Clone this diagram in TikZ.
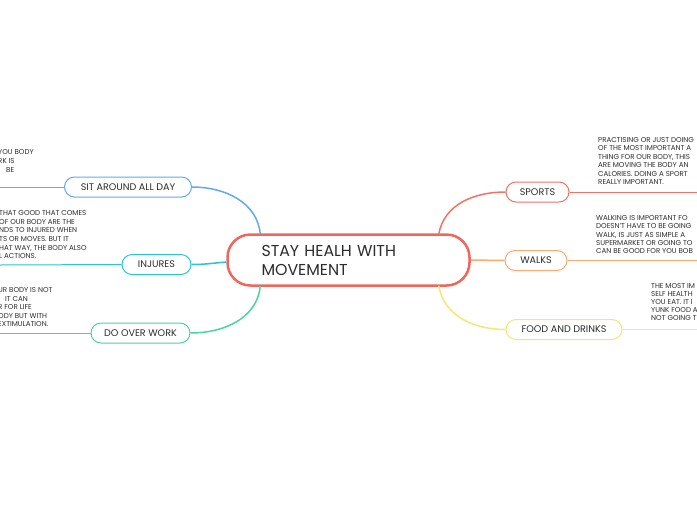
\documentclass[tikz,border=0pt]{standalone}
\usepackage{fontspec}
\setmainfont{Poppins}
\definecolor{txt}{RGB}{45,45,45}
\definecolor{cred}{RGB}{242,101,92}
\definecolor{sitc}{RGB}{98,170,240}
\definecolor{injc}{RGB}{40,198,210}
\definecolor{doc}{RGB}{72,214,160}
\definecolor{spoc}{RGB}{246,112,102}
\definecolor{walc}{RGB}{255,168,112}
\definecolor{fooc}{RGB}{248,230,112}
\begin{document}
\begin{tikzpicture}[x=1pt,y=-1pt,
  topic/.style={draw, line width=1pt, fill=white, rounded corners=10pt, minimum height=20pt, inner sep=0pt, font=\fontsize{9.6}{11}\selectfont, text=txt},
  note/.style={anchor=north west, inner sep=0pt, align=left, text=txt},
  conn/.style={line width=1.5pt},
  uline/.style={line width=1pt}]
\useasboundingbox (0,0) rectangle (697,520);
\clip (0,0) rectangle (697,520);
\fill[white] (0,0) rectangle (697,520);

% notes
\node[note, font=\fontsize{7.1}{9}\selectfont] (nsit) at (-2,149.2) {YOU BODY\\RK IS\\\hspace{8pt}BE};
\node[note, font=\fontsize{7.1}{8.7}\selectfont] (ninj) at (-1,210.2) {THAT GOOD THAT COMES\\OF OUR BODY ARE THE\\NDS TO INJURED WHEN\\TS OR MOVES. BUT IT\\HAT WAY, THE BODY ALSO\\L ACTIONS.};
\node[note, font=\fontsize{7.1}{8.6}\selectfont] (ndo) at (-2,287.2) {UR BODY IS NOT\\\hspace{7pt}IT CAN\\R FOR LIFE\\ODY BUT WITH\\EXTIMULATION.};
\node[note, font=\fontsize{7.1}{8.4}\selectfont] (nspo) at (598,137.2) {PRACTISING OR JUST DOING\\OF THE MOST IMPORTANT A\\THING FOR OUR BODY, THIS\\ARE MOVING THE BODY AN\\CALORIES. DOING A SPORT\\REALLY IMPORTANT.};
\node[note, font=\fontsize{7.1}{8.3}\selectfont] (nwal) at (596,215.2) {WALKING IS IMPORTANT FO\\DOESN'T HAVE TO BE GOING\\WALK, IS JUST AS SIMPLE A\\SUPERMARKET OR GOING TO\\CAN BE GOOD FOR YOU BOB};
\node[note, font=\fontsize{7.1}{7.9}\selectfont] (nfoo) at (651,283.2) {THE MOST IM\\SELF HEALTH\\YOU EAT. IT I\\YUNK FOOD A\\NOT GOING T};

% central
\node[draw=cred, line width=2.5pt, fill=white, rounded corners=23pt, minimum width=242pt, minimum height=51pt, inner xsep=34pt, text width=174pt, align=left, font=\fontsize{15.8}{19}\selectfont, text=txt] (c) at (348.5,260) {STAY HEALH WITH\\MOVEMENT};

% topics
\node[topic, draw=sitc, minimum width=127pt] (sit) at (128,187) {SIT AROUND ALL DAY};
\node[topic, draw=injc, minimum width=69pt] (inj) at (156.5,264.5) {INJURES};
\node[topic, draw=doc, minimum width=99pt] (do) at (140.5,333) {DO OVER WORK};
\node[topic, draw=spoc, minimum width=63pt] (spo) at (537.5,192) {SPORTS};
\node[topic, draw=walc, minimum width=62pt] (wal) at (536,260.5) {WALKS};
\node[topic, draw=fooc, minimum width=116pt] (foo) at (564,329.5) {FOOD AND DRINKS};

% free ends of underlines
\coordinate (esit) at (0,187);
\coordinate (einj) at (0,265);
\coordinate (edo) at (0,333);
\coordinate (espo) at (697,192);
\coordinate (ewal) at (697,260.5);
\coordinate (efoo) at (697,329.5);

% connectors
\draw[conn, sitc] ([xshift=34pt,yshift=-1pt]c.north west) to[out=95,in=0] (sit.east);
\draw[conn, injc] ([yshift=-2pt]c.west) to[out=185,in=0] (inj.east);
\draw[conn, doc] ([xshift=34pt,yshift=1pt]c.south west) to[out=-95,in=0] (do.east);
\draw[conn, spoc] ([xshift=-32pt,yshift=-1pt]c.north east) to[out=80,in=180] (spo.west);
\draw[conn, walc] (c.east) -- (wal.west);
\draw[conn, fooc] ([xshift=-32pt,yshift=1pt]c.south east) to[out=-80,in=180] (foo.west);

% underlines
\draw[uline, sitc] (sit.west) -- (esit);
\draw[uline, injc] (inj.west) -- (einj);
\draw[uline, doc] (do.west) -- (edo);
\draw[uline, spoc] (spo.east) -- (espo);
\draw[uline, walc] (wal.east) -- (ewal);
\draw[uline, fooc] (foo.east) -- (efoo);
\end{tikzpicture}
\end{document}
